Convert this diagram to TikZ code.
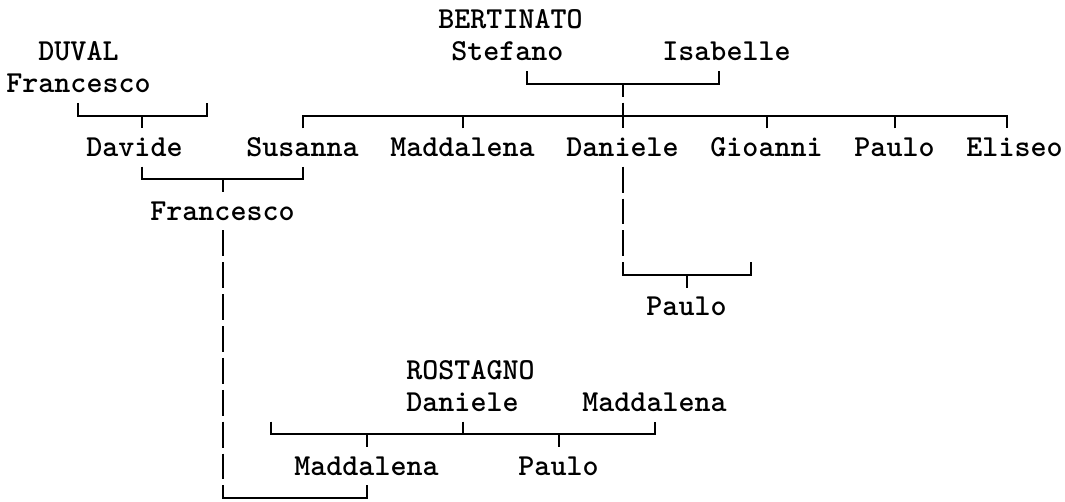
\documentclass[tikz,border=0pt]{standalone}
\begin{document}
\begin{tikzpicture}[x=16pt,y=-31.87pt,
    person/.style={font=\ttfamily\bfseries\fontsize{30.5pt}{32pt}\selectfont,inner sep=0pt,text height=28pt,text depth=10pt},
    tie/.style={line width=2pt},
    rowdash/.style={tie,dash pattern=on 25.87pt off 6pt,dash phase=#1},rowdash/.default=0pt]
  \useasboundingbox (-0.906,-0.6275) rectangle (65.656,15.093);
  % parents
  \node[person] (bert) at (31,0) {BERTINATO};
  \node[person] (duval) at (4,1) {DUVAL}; \node[person] (fran) at (4,2) {Francesco};
  \node[person] (stef) at (30.8,1) {Stefano}; \node[person] (isab) at (44.5,1) {Isabelle};
  \node[person] (spduv) at (12,2) {};
  % children of Stefano and Isabelle
  \foreach \n/\x/\t in {davi/7.5/Davide,susa/18/Susanna,madd/28/Maddalena,dani/38/Daniele,
      gioa/47/Gioanni,paul/55/Paulo,elis/62.5/Eliseo}
    \node[person] (\n) at (\x,4) {\t};
  \node[person] (franb) at (13,6) {Francesco};
  \node[person] (spdan) at (46,7) {}; \node[person] (paulb) at (42,9) {Paulo};
  \node[person] (rost) at (28.5,11) {ROSTAGNO};
  \node[person] (danr) at (28,12) {Daniele}; \node[person] (madr) at (40,12) {Maddalena};
  \node[person] (sprost) at (16,12) {};
  \node[person] (maddb) at (22,14) {Maddalena}; \node[person] (paulc) at (34,14) {Paulo};
  \coordinate (jduv) at (8,3); \coordinate (jber) at (38,2); \coordinate (jkid) at (38,3);
  \coordinate (jds) at (13,5); \coordinate (jdp) at (42,8); \coordinate (jfm) at (13,15);
  \coordinate (jr1) at (22,13); \coordinate (jr2) at (34,13);
  % DUVAL
  \draw[tie] (fran.south) |- (jduv) -| (spduv.south); \draw[tie] (jduv) -- (jduv |- davi.north);
  % BERTINATO
  \draw[tie] (stef.south -| 32,0) |- (jber) -| (isab.south -| 44,0);
  \draw[rowdash=12.87pt] (jber) -- (jber |- dani.north);
  \draw[tie] (susa.north) |- (jkid) -| (elis.north -| 62,0);
  \foreach \n in {madd,gioa,paul} \draw[tie] (\n.north) -- (\n.north |- jkid);
  % Davide and Susanna
  \draw[tie] (davi.south -| 8,0) |- (jds) -| (susa.south); \draw[tie] (jds) -- (franb.north);
  % Daniele
  \draw[rowdash] (dani.south) -- (dani.south |- jdp);
  \draw[tie] (dani.south |- spdan.south) |- (jdp) -| (spdan.south); \draw[tie] (jdp) -- (paulb.north);
  % Francesco
  \draw[rowdash] (franb.south) -- (jfm);
  \draw[tie] (franb.south |- maddb.south) |- (jfm) -| (maddb.south);
  % ROSTAGNO
  \draw[tie] (sprost.south) |- (jr1) -- (jr2) -| (madr.south);
  \draw[tie] (danr.south) -- (danr.south |- jr1);
  \draw[tie] (jr1) -- (maddb.north); \draw[tie] (jr2) -- (paulc.north);
\end{tikzpicture}
\end{document}
